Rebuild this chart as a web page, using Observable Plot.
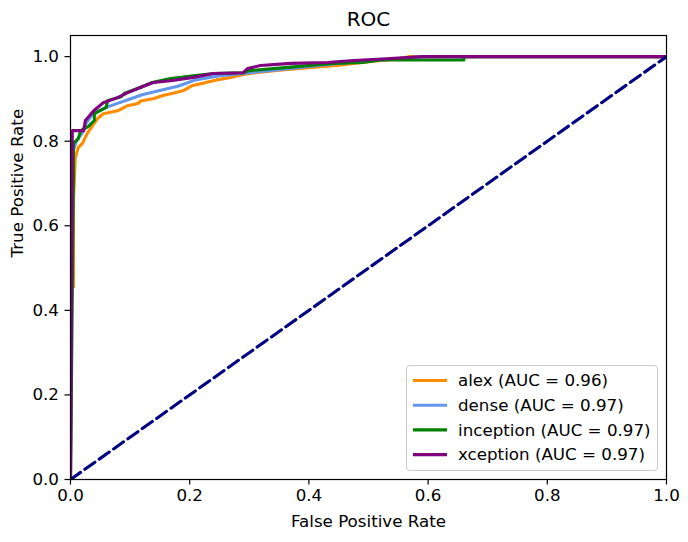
<!DOCTYPE html>
<html>
<head>
<meta charset="utf-8">
<script src="https://cdn.jsdelivr.net/npm/d3@7"></script>
<script src="https://cdn.jsdelivr.net/npm/@observablehq/plot@0.6"></script>
<style>
  html, body { margin: 0; padding: 0; background: #fff; }
  #wrap { position: relative; width: 688px; height: 542px; font-family: "DejaVu Sans", sans-serif; }
  #legend { position: absolute; box-sizing: border-box; border: 1px solid #cccccc; border-radius: 4px; background: rgba(255,255,255,0.8); }
</style>
</head>
<body>
<div id="wrap"></div>
<script>
// ---- data ----
const models = ["alex", "dense", "inception", "xception"];
const aucs = [0.96, 0.97, 0.97, 0.97];
const colors = ["#ff8c00", "#6495ed", "#008000", "#800080"];

const alexFpr = [0, 0, 0.005, 0.005, 0.008, 0.013, 0.02, 0.028, 0.037, 0.045, 0.055, 0.079, 0.096, 0.113, 0.118, 0.14, 0.155, 0.17, 0.19, 0.205, 0.225, 0.245, 0.27, 0.29, 0.31, 0.35, 0.4, 0.45, 0.5, 0.55, 0.57, 1];
const alexTpr = [0, 0.456, 0.456, 0.66, 0.76, 0.785, 0.795, 0.818, 0.837, 0.853, 0.865, 0.872, 0.884, 0.889, 0.895, 0.901, 0.908, 0.913, 0.92, 0.932, 0.938, 0.945, 0.951, 0.958, 0.962, 0.968, 0.974, 0.98, 0.988, 0.995, 1.0, 1];

const denseFpr = [0, 0.003, 0.005, 0.01, 0.02, 0.025, 0.035, 0.045, 0.06, 0.08, 0.1, 0.12, 0.15, 0.18, 0.21, 0.25, 0.29, 0.32, 0.37, 0.42, 0.48, 0.53, 0.59, 1];
const denseTpr = [0, 0.72, 0.78, 0.80, 0.82, 0.84, 0.86, 0.87, 0.88, 0.89, 0.90, 0.91, 0.92, 0.93, 0.945, 0.955, 0.96, 0.965, 0.972, 0.98, 0.988, 0.993, 1.0, 1];

const inceptionFpr = [0, 0.005, 0.005, 0.013, 0.017, 0.03, 0.04, 0.04, 0.06, 0.062, 0.085, 0.09, 0.117, 0.137, 0.168, 0.206, 0.24, 0.29, 0.3, 0.36, 0.44, 0.49, 0.52, 0.66, 0.66, 1];
const inceptionTpr = [0, 0.72, 0.795, 0.806, 0.825, 0.835, 0.849, 0.865, 0.88, 0.896, 0.905, 0.913, 0.927, 0.939, 0.948, 0.955, 0.96, 0.962, 0.967, 0.974, 0.984, 0.986, 0.992, 0.992, 1.0, 1];

const xceptionFpr = [0, 0.003, 0.003, 0.022, 0.025, 0.039, 0.055, 0.079, 0.096, 0.117, 0.139, 0.168, 0.206, 0.24, 0.29, 0.297, 0.319, 0.369, 0.431, 0.475, 0.53, 0.592, 1];
const xceptionTpr = [0, 0.80, 0.825, 0.825, 0.849, 0.872, 0.891, 0.903, 0.915, 0.927, 0.939, 0.943, 0.951, 0.96, 0.962, 0.972, 0.979, 0.984, 0.986, 0.991, 0.995, 1.0, 1];

const diagX = [0, 1];
const diagY = [0, 1];

const xTicks = [0, 0.2, 0.4, 0.6, 0.8, 1.0];
const yTicks = [0, 0.2, 0.4, 0.6, 0.8, 1.0];

const titleText = "ROC";
const xLabel = "False Positive Rate";
const yLabel = "True Positive Rate";

// ---- build ----
const fprs = [alexFpr, denseFpr, inceptionFpr, xceptionFpr];
const tprs = [alexTpr, denseTpr, inceptionTpr, xceptionTpr];
const rows = [];
models.forEach((m, i) => fprs[i].forEach((f, j) => rows.push({model: m, fpr: f, tpr: tprs[i][j]})));
const diag = diagX.map((d, i) => ({x: d, y: diagY[i]}));

const fontSize = 16.7;
const lw = 3.1;
const plot = Plot.plot({
  width: 688,
  height: 542,
  marginLeft: 70,
  marginRight: 22,
  marginTop: 35,
  marginBottom: 63,
  style: {fontFamily: "DejaVu Sans, sans-serif", fontSize: fontSize + "px", color: "#000", background: "#fff"},
  x: {domain: [0, 1], ticks: xTicks, tickFormat: d3.format(".1f"), label: null},
  y: {domain: [0, 1.05], ticks: yTicks, tickFormat: d3.format(".1f"), label: null},
  color: {domain: models, range: colors},
  marks: [
    Plot.line(rows, {x: "fpr", y: "tpr", z: "model", stroke: "model", strokeWidth: lw, clip: true, strokeLinejoin: "round", strokeLinecap: "square"}),
    Plot.line(diag, {x: "x", y: "y", stroke: "#000080", strokeWidth: lw, strokeDasharray: "12.3,5.3", clip: true}),
    Plot.frame({stroke: "#000", strokeWidth: 1.2}),
    Plot.axisX({ticks: xTicks, tickFormat: d3.format(".1f"), tickSize: 5.5, tickPadding: 4, strokeWidth: 1.2, label: null, fontSize: fontSize}),
    Plot.axisY({ticks: yTicks, tickFormat: d3.format(".1f"), tickSize: 5.5, tickPadding: 6, strokeWidth: 1.2, label: null, fontSize: fontSize}),
    Plot.text([titleText], {frameAnchor: "top", dy: -16, fontSize: 20, text: d => d, lineAnchor: "middle"}),
    Plot.text([xLabel], {frameAnchor: "bottom", dy: 42, fontSize: fontSize, text: d => d, lineAnchor: "middle"}),
    Plot.text([yLabel], {frameAnchor: "left", dx: -53, rotate: -90, fontSize: fontSize, text: d => d, lineAnchor: "middle"})
  ]
});

const wrap = document.getElementById("wrap");
wrap.appendChild(plot);

// legend (matplotlib style, lower right)
const legend = d3.select(wrap).append("div").attr("id", "legend")
  .style("left", "406px").style("top", "365px").style("width", "252px").style("height", "106px");
const svg = legend.append("svg").attr("width", 250).attr("height", 104).style("display", "block");
models.forEach((m, i) => {
  const cy = 14.5 + i * 24.7;
  svg.append("line").attr("x1", 6).attr("x2", 40).attr("y1", cy).attr("y2", cy)
    .attr("stroke", colors[i]).attr("stroke-width", lw);
  svg.append("text").attr("x", 51).attr("y", cy).attr("dy", "0.35em")
    .attr("font-family", "DejaVu Sans, sans-serif").attr("font-size", fontSize)
    .attr("fill", "#000")
    .text(`${m} (AUC = ${aucs[i].toFixed(2)})`);
});
</script>
</body>
</html>
